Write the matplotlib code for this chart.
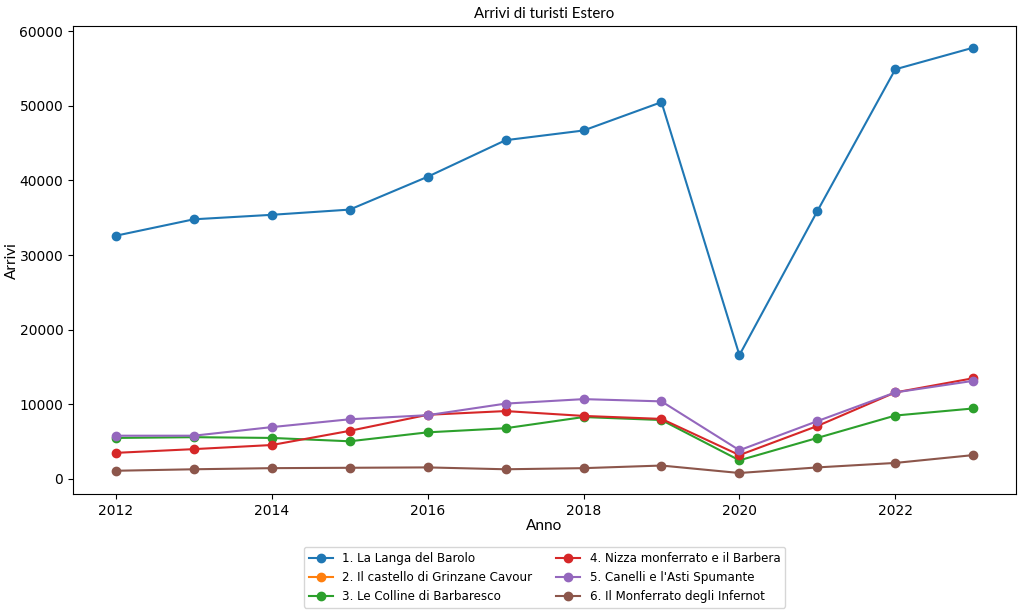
import matplotlib
matplotlib.use("Agg")
import matplotlib.pyplot as plt
import numpy as np

years = [2012, 2013, 2014, 2015, 2016, 2017, 2018, 2019, 2020, 2021, 2022, 2023]
labels = ["1. La Langa del Barolo", "2. Il castello di Grinzane Cavour",
          "3. Le Colline di Barbaresco", "4. Nizza monferrato e il Barbera",
          "5. Canelli e l'Asti Spumante", "6. Il Monferrato degli Infernot"]

langa = [32600, 34800, 35400, 36100, 40500, 45400, 46700, 50500, 16600, 35900, 54900, 57800]
grinzane = [np.nan] * 12
colline = [5500, 5600, 5500, 5050, 6250, 6800, 8300, 7900, 2500, 5500, 8500, 9450]
nizza = [3500, 4000, 4550, 6450, 8600, 9100, 8450, 8050, 3200, 7100, 11600, 13500]
canelli = [5800, 5800, 6950, 8000, 8550, 10100, 10700, 10400, 3850, 7750, 11600, 13150]
infernot = [1100, 1300, 1450, 1500, 1550, 1300, 1450, 1800, 800, 1550, 2150, 3200]

series = [langa, grinzane, colline, nizza, canelli, infernot]

fig = plt.figure(figsize=(10.24, 6.14), dpi=100)
ax = fig.add_axes([0.0713, 0.195, 0.921, 0.762])
for s, lab in zip(series, labels):
    ax.plot(years, s, marker="o", label=lab)

ax.set_yticks([0, 10000, 20000, 30000, 40000, 50000, 60000])
ax.set_xticks([2012, 2014, 2016, 2018, 2020, 2022])
ax.set_title("Arrivi di turisti Estero", fontsize=10.8, family="Lato")
ax.set_xlabel("Anno", fontsize=11, family="Lato", labelpad=1)
ax.set_ylabel("Arrivi", fontsize=11, family="Lato", labelpad=0)
ax.legend(loc="upper center", bbox_to_anchor=(0.5, -0.1), ncol=2, fontsize=8.6)

fig.savefig("out.png", dpi=100)
